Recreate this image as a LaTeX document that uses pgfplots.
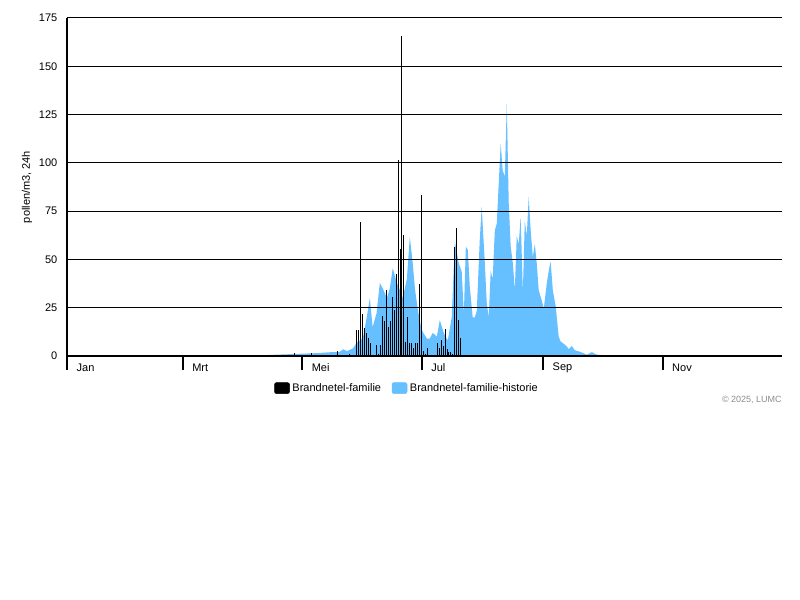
\documentclass[border=0pt]{standalone}
\usepackage{pgfplots}
\pgfplotsset{compat=1.18}
\usepackage{fontspec}
\setmainfont{Liberation Sans}
\definecolor{histblue}{RGB}{102,191,255}
\definecolor{copygray}{RGB}{140,140,140}

% daily counts this year
\pgfplotstableread{
day val
105 0.5
106 0.5
115 0.5
116 1.4
118 0.5
121 0.5
122 0.5
125 1.4
128 0.5
129 0.5
131 0.5
132 0.5
133 0.5
135 0.5
138 2.6
139 0.5
140 0.5
142 0.5
144 1.0
145 0.5
148 13.5
149 13.5
150 69.5
151 22
152 14.5
153 12
154 9.5
155 6.5
156 0.5
157 0.5
158 5.5
159 1
160 5.5
161 20.7
162 18
163 34
164 15
165 18
166 30.7
167 24
168 42.5
169 101.5
170 55.4
171 165.7
172 62.5
173 7.5
174 20
175 6.5
176 6.5
177 4
178 6.5
179 6.5
180 37.3
181 83.4
182 2.5
183 1
184 4
185 0.3
186 0.3
187 0.3
188 0.3
189 6.5
190 4
191 8.3
192 5.4
193 14
194 3.5
195 2
196 2
197 1
198 56.4
199 66.3
200 18.6
201 9.5
}\current

% historical average
\pgfplotstableread{
day val
0 0
28 0.3
60 0.1
90 0.2
100 0.4
110 0.8
120 1.2
128 1.5
135 2
139 2
141 3.5
143 2.5
146 4
148 7
151 9
153 20
154.6 30
156 15
158 22
159.7 37.8
161.2 35
163.3 30
164.8 35
166.3 45.5
168.4 37.8
170 34
171.4 30
173.5 40
175 61.6
176.5 48
177.6 35
179 24.5
181 13.5
183.7 9
185.2 9
186.7 12
188.8 10
190.3 18.6
192.3 12
194.4 8
196.4 20
198 59
200 48
201.5 43.7
202.6 22
203.6 56.6
204.6 55
205.6 36
207.1 20
208.2 20
209.2 23.5
210.7 60
211.7 77.3
213.3 48
214.3 27
215.3 20
216.3 44
217.3 40
218.4 65
219.4 68.6
220.4 89.4
221.4 110
222.4 96
223.5 93
224.5 130.8
225.5 79
226.5 56.6
227.6 48
228.6 34
229.6 62
230.6 58
231.6 72
232.7 33
233.7 70
234.7 62
235.7 82.5
236.7 65
237.8 51.3
238.8 58
239.8 48
240.8 34
242.3 29
243.4 24.5
244.9 37.5
245.9 44
246.9 48.8
248 34
249.5 25.6
251 10
252 7.5
253.6 6.3
255.1 5
256.1 3.5
257.7 5.2
259.2 3
261.2 2.4
263.3 1.6
265.3 0.7
267.9 2
270.4 0.7
275.5 0.3
282 0.2
300 0.2
320 0.1
340 0
365 0
}\history

\begin{document}
\begin{tikzpicture}[font=\fontsize{8.25}{10}\selectfont]
\path[use as bounding box] (0,0) rectangle (600pt,450pt);
\begin{axis}[
    at={(50.25pt,183pt)}, anchor=south west,
    scale only axis,
    width=536.25pt, height=253.5pt,
    xmin=0, xmax=365, ymin=0, ymax=175,
    axis x line*=bottom, axis y line*=left,
    axis line style={-, line width=1.5pt},
    axis on top,
    xtick={0,59,120,181,243,304},
    xticklabels={Jan,Mrt,Mei,Jul,Sep,Nov},
    ytick={0,25,...,175},
    ymajorgrids,
    major grid style={black, line width=0.75pt},
    tick align=outside,
    major tick length=10.5pt,
    xtick style={black, line width=1.5pt},
    ytick style={draw=none},
    xticklabel style={anchor=west, xshift=3.75pt, yshift=2pt},
    yticklabel style={xshift=6.75pt},
    /pgf/number format/assume math mode=true,
    ylabel={pollen/m3, 24h},
    ylabel style={at={(axis description cs:-0.056,0.5)}, anchor=center},
    legend style={at={(0.476,-0.095)}, anchor=center, draw=none,
        legend columns=2, /tikz/every even column/.append style={column sep=6pt}},
    legend cell align=left,
]
\addplot[fill=histblue, draw=none, forget plot] table[x=day, y=val] {\history} \closedcycle;
\addplot[ycomb, black, line width=0.75pt, mark=none, forget plot] table[x=day, y=val] {\current};
\addlegendimage{legend image code/.code={\fill[black, rounded corners=1.5pt] (0pt,-4.1pt) rectangle (11.25pt,4.1pt);}}
\addlegendentry{Brandnetel-familie}
\addlegendimage{legend image code/.code={\fill[histblue, rounded corners=1.5pt] (0pt,-4.1pt) rectangle (11.25pt,4.1pt);}}
\addlegendentry{Brandnetel-familie-historie}
\end{axis}
\node[anchor=east, inner sep=0pt, text=copygray, font=\fontsize{6.75}{8}\selectfont] at (586.5pt,150pt) {\textcopyright{} 2025, LUMC};
\end{tikzpicture}
\end{document}
